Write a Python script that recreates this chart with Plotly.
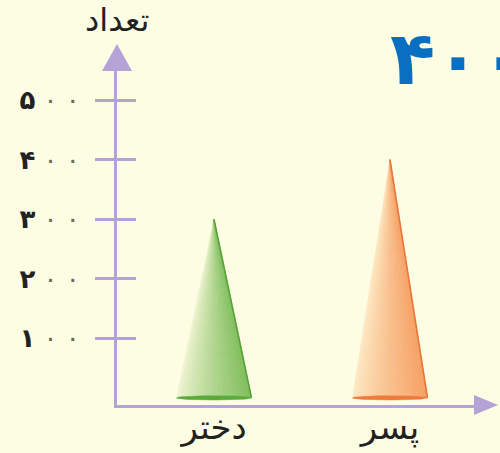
import plotly.graph_objects as go
import numpy as np

# data
groups = ["دختر", "پسر"]
counts = [300, 400]
y_ticks = [100, 200, 300, 400, 500]
y_tick_text = ["<b>۱</b> <span style='color:#6a6a5a'>۰ ۰</span>",
               "<b>۲</b> <span style='color:#6a6a5a'>۰ ۰</span>",
               "<b>۳</b> <span style='color:#6a6a5a'>۰ ۰</span>",
               "<b>۴</b> <span style='color:#6a6a5a'>۰ ۰</span>",
               "<b>۵</b> <span style='color:#6a6a5a'>۰ ۰</span>"]
y_title = "تعداد"
highlight = "۴۰۰"

# colours per cone: pale left, saturated right, edge, base ellipse
cone_colors = [
    dict(light=(244, 246, 214), dark=(128, 190, 92), edge="#55a23a", base="#5aab3c"),
    dict(light=(254, 236, 200), dark=(246, 160, 100), edge="#e8763a", base="#ef7a3c"),
]

BG = "#fdfde4"
AXIS = "#b5a2d6"

W, H = 500, 453
L, R, T, B = 117, 25, 70, 48
X_RANGE = [-0.551, 1.483]
Y_RANGE = [-12, 551]
HALF_W = 0.213      # cone half width in x units
ELL_H = 6.0         # half height of base ellipse in y units

pw, ph = W - L - R, H - T - B


def paper(px, py):
    return (px - L) / pw, (H - B - py) / ph


fig = go.Figure()

for i, (v, c) in enumerate(zip(counts, cone_colors)):
    n = 28
    xs = np.linspace(i - HALF_W, i + HALF_W, n + 1)
    for k in range(n):
        t = (k + 0.5) / n
        t = t ** 0.8
        rgb = tuple(int(c["light"][j] + (c["dark"][j] - c["light"][j]) * t) for j in range(3))
        col = "rgb(%d,%d,%d)" % rgb
        fig.add_trace(go.Scatter(
            x=[i, xs[k], xs[k + 1], i], y=[v, 0, 0, v], mode="lines",
            fill="toself", fillcolor=col, line=dict(color=col, width=0.6),
            hoverinfo="skip", showlegend=False))
    # darker right edge
    fig.add_trace(go.Scatter(
        x=[i, i + HALF_W], y=[v, 0], mode="lines",
        line=dict(color=c["edge"], width=1.6), hoverinfo="skip", showlegend=False))
    # base ellipse
    th = np.linspace(0, 2 * np.pi, 60)
    fig.add_trace(go.Scatter(
        x=i + HALF_W * np.cos(th), y=ELL_H * np.sin(th) * 0.6, mode="lines",
        fill="toself", fillcolor=c["base"], line=dict(color=c["base"], width=0.5),
        hoverinfo="skip", showlegend=False))

# dummy trace for the overlaying axis (inner half of the ticks)
fig.add_trace(go.Scatter(x=[None], y=[None], yaxis="y2", showlegend=False, hoverinfo="skip"))

# axis arrow heads
tip_up = [paper(117, 44), paper(102, 71), paper(132, 71)]
tip_right = [paper(498, 405), paper(474, 395), paper(474, 415)]
for pts in (tip_up, tip_right):
    path = "M %f %f L %f %f L %f %f Z" % (pts[0] + pts[1] + pts[2])
    fig.add_shape(type="path", path=path, xref="paper", yref="paper",
                  fillcolor=AXIS, line=dict(color=AXIS, width=0), layer="above")

fx, fy = paper(117, 20)
fig.add_annotation(text=y_title, xref="paper", yref="paper", x=fx, y=fy,
                   xanchor="center", yanchor="middle", showarrow=False,
                   font=dict(family="DejaVu Sans", size=32, color="#222"))
hx, hy = paper(388, 58)
fig.add_annotation(text="<b>%s</b>" % highlight, xref="paper", yref="paper", x=hx, y=hy,
                   xanchor="left", yanchor="middle", showarrow=False,
                   font=dict(family="DejaVu Sans", size=74, color="#0b6fc1"))

fig.update_layout(
    width=W, height=H,
    margin=dict(l=L, r=R, t=T, b=B),
    paper_bgcolor=BG, plot_bgcolor=BG,
    showlegend=False,
    xaxis=dict(range=X_RANGE, tickvals=list(range(len(groups))), ticktext=groups,
               showgrid=False, zeroline=False, showline=True, linecolor=AXIS, linewidth=3,
               ticks="", ticklabelstandoff=-10, automargin=False,
               tickfont=dict(family="DejaVu Sans", size=34, color="#222")),
    yaxis=dict(range=Y_RANGE, tickvals=y_ticks, ticktext=y_tick_text,
               showgrid=False, zeroline=False, showline=True, linecolor=AXIS, linewidth=3,
               ticks="outside", ticklen=19, tickwidth=2.5, tickcolor=AXIS,
               ticklabelstandoff=10, automargin=False,
               tickfont=dict(family="DejaVu Sans", size=26, color="#222")),
    yaxis2=dict(range=Y_RANGE, overlaying="y", side="left", anchor="x",
                tickvals=y_ticks, showticklabels=False, showgrid=False, zeroline=False,
                ticks="inside", ticklen=19, tickwidth=2.5, tickcolor=AXIS, automargin=False),
)

fig.write_html("out.html", config={"displayModeBar": False},
               post_script="document.body.style.margin='0';")
